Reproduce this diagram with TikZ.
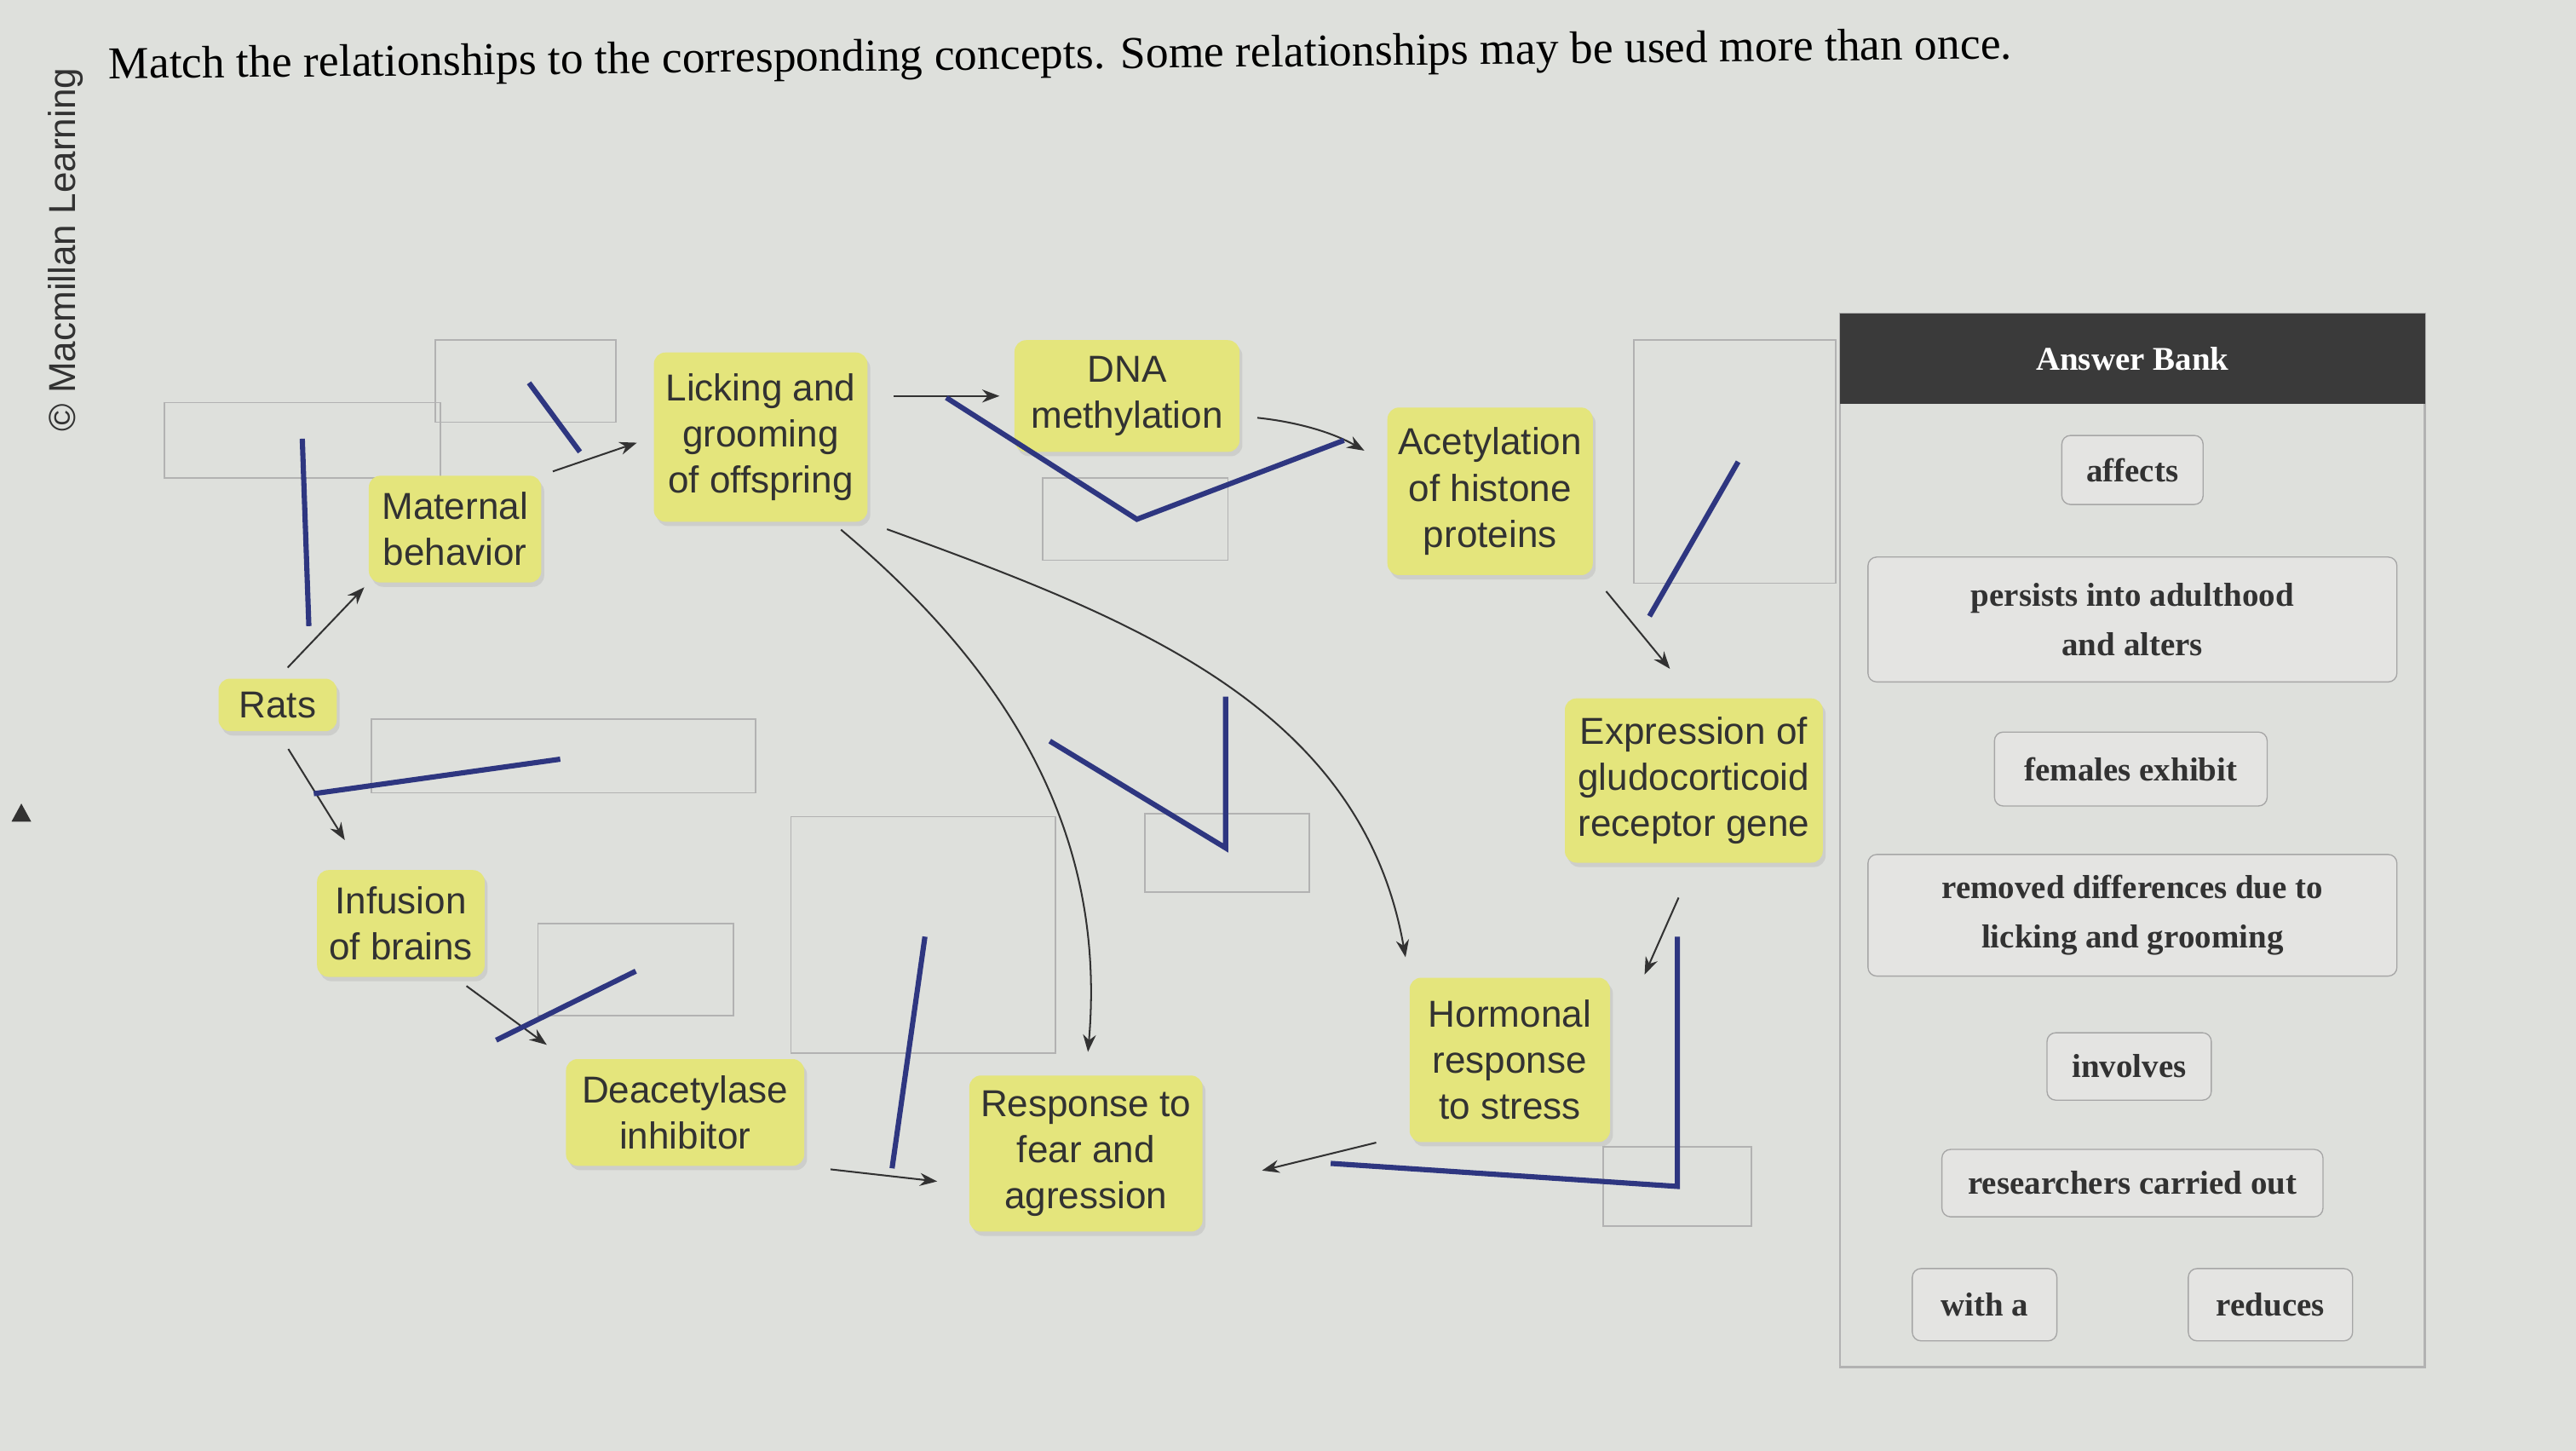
\documentclass[tikz,border=0pt]{standalone}
\usepackage{fontspec}
\setmainfont{Liberation Serif}
\setsansfont{Liberation Sans}
\usepackage{tikz}
\usetikzlibrary{arrows.meta,positioning,shadows}

\definecolor{screen}{RGB}{222,224,220}
\definecolor{conceptfill}{RGB}{228,229,124}
\definecolor{ink}{RGB}{50,50,50}
\definecolor{penblue}{RGB}{46,54,128}
\definecolor{bankhead}{RGB}{58,58,58}
\definecolor{cardfill}{RGB}{228,228,226}

\begin{document}
\begin{tikzpicture}[
		x=0.02cm, y=-0.02cm,
		>={Stealth[length=6pt,width=4.5pt]},
		concept/.style={
			rectangle,
			rounded corners=4pt,
			fill=conceptfill,
			drop shadow={opacity=0.18, shadow xshift=1pt, shadow yshift=-1.5pt},
			text=ink,
			align=center,
			inner sep=3pt,
			font=\sffamily\fontsize{13}{16}\selectfont
		},
		slot/.style={
			draw=gray!60,
			line width=0.5pt
		},
		link/.style={
			draw=ink,
			line width=0.6pt,
			shorten <=4pt,
			shorten >=3pt
		},
		penline/.style={
			draw=penblue,
			line width=1.8pt,
			line join=miter
		},
		card/.style={
			draw=gray!70,
			rounded corners=3pt,
			fill=cardfill,
			text=ink,
			align=center,
			font=\bfseries\fontsize{11.5}{17}\selectfont
		}
		]
		
		\useasboundingbox (0,0) rectangle (1568,883);
		\fill[screen] (0,0) rectangle (1568,883);
		
		\node (credit) [rotate=90, text=ink, font=\sffamily\fontsize{13}{15}\selectfont] at (40,152) {\textcopyright\ Macmillan Learning};
		
		\node (title) [anchor=base west, rotate=0.6, text=black, font=\fontsize{15.8}{18}\selectfont] at (60,48) {Match the relationships to the corresponding concepts. Some relationships may be used more than once.};
		
		\fill[ink] (7,500) -- (19,500) -- (13,489) -- cycle;
		
		\node (s1) [slot, minimum width=2.2cm, minimum height=1cm] at (320,232) {};
		\node (s2) [slot, minimum width=3.36cm, minimum height=0.92cm] at (184,268) {};
		\node (s3) [slot, minimum width=4.68cm, minimum height=0.9cm] at (343,460) {};
		\node (s4) [slot, minimum width=2.38cm, minimum height=1.12cm] at (387,590) {};
		\node (s5) [slot, minimum width=3.22cm, minimum height=2.88cm] at (562,569) {};
		\node (s6) [slot, minimum width=2.26cm, minimum height=1cm] at (691,316) {};
		\node (s7) [slot, minimum width=2.46cm, minimum height=2.96cm] at (1056,281) {};
		\node (s8) [slot, minimum width=2cm, minimum height=0.96cm] at (747,519) {};
		\node (s9) [slot, minimum width=1.8cm, minimum height=0.96cm] at (1021,722) {};
		
		\node (lick) [concept, minimum width=2.6cm, minimum height=2.06cm] at (463,266) {Licking and\\grooming\\of offspring};
		
		\node (dna) [concept, minimum width=2.74cm, minimum height=1.36cm] at (686,241) {DNA\\methylation};
		
		\node (acet) [concept, minimum width=2.5cm, minimum height=2.04cm] at (907,299) {Acetylation\\of histone\\proteins};
		
		\node (maternal) [concept, minimum width=2.1cm, minimum height=1.3cm] at (277,322) {Maternal\\behavior};
		
		\node (rats) [concept, minimum width=1.44cm, minimum height=0.64cm] at (169,429) {Rats};
		
		\node (expr) [concept, minimum width=3.14cm, minimum height=2cm] at (1031,475) {Expression of\\gludocorticoid\\receptor gene};
		
		\node (infusion) [concept, minimum width=2.04cm, minimum height=1.3cm] at (244,562) {Infusion\\of brains};
		
		\node (deacet) [concept, minimum width=2.9cm, minimum height=1.3cm] at (417,677) {Deacetylase\\inhibitor};
		
		\node (response) [concept, minimum width=2.84cm, minimum height=1.9cm] at (661,702) {Response to\\fear and\\agression};
		
		\node (hormonal) [concept, minimum width=2.44cm, minimum height=2cm] at (919,645) {Hormonal\\response\\to stress};
		
		\draw[->, link, shorten <=5pt, shorten >=2pt] (rats.north) -- (maternal.south west);
		\draw[->, link, shorten >=6pt] (maternal.north east) -- (lick.west);
		\draw[->, link, shorten <=9pt, shorten >=5pt] (lick.east |- dna.west) -- (dna.west);
		\draw[->, link, shorten <=6pt, shorten >=9pt] (dna.-10) to[bend left=12] (acet.165);
		\draw[->, link, shorten <=7pt, shorten >=13pt] (acet.south east) -- (expr.north);
		\draw[->, link, shorten <=13pt, shorten >=1pt] (expr.south) -- ([xshift=0.4cm]hormonal.north east);
		\draw[->, link, shorten <=0pt, shorten >=21pt] ([xshift=-0.4cm]hormonal.south west) -- (response.-15);
		\draw[->, link, shorten <=7pt, shorten >=7pt] (lick.south east) to[out=-20, in=100] (hormonal.north west);
		\draw[->, link, shorten <=4pt, shorten >=8pt] (lick.-50) to[out=-40, in=85] (response.north);
		\draw[->, link, shorten <=7pt, shorten >=12pt] (rats.south) -- (infusion.125);
		\draw[->, link, shorten <=5pt, shorten >=8pt] (infusion.-45) -- (deacet.north west);
		\draw[->, link, shorten <=9pt, shorten >=11pt] (deacet.south east) -- (response.-165);
		
		\draw[penline] (184,267) -- (188,381);
		\draw[penline] (322,233) -- (353,275);
		\draw[penline] (576,242) -- (692,316) -- (818,268);
		\draw[penline] (1058,281) -- (1004,375);
		\draw[penline] (639,451) -- (746,516) -- (746,424);
		\draw[penline] (191,483) -- (341,462);
		\draw[penline] (302,633) -- (387,591);
		\draw[penline] (563,570) -- (543,711);
		\draw[penline] (1021,570) -- (1021,722) -- (810,708);
		
		\draw[gray!60, line width=0.8pt, fill=screen] (1120,191) rectangle (1476,832);
		\node (bank) [fill=bankhead, minimum width=7.12cm, minimum height=1.1cm, text=white, font=\bfseries\fontsize{11.5}{14}\selectfont] at (1298,218.5) {Answer Bank};
		
		\node (affects) [card, minimum width=1.72cm, minimum height=0.84cm] at (1298,286) {affects};
		
		\node (persists) [card, minimum width=6.44cm, minimum height=1.52cm] at (1298,377) {persists into adulthood\\and alters};
		
		\node (females) [card, minimum width=3.32cm, minimum height=0.9cm] at (1297,468) {females exhibit};
		
		\node (removed) [card, minimum width=6.44cm, minimum height=1.48cm] at (1298,557) {removed differences due to\\licking and grooming};
		
		\node (involves) [card, minimum width=2cm, minimum height=0.82cm] at (1296,649) {involves};
		
		\node (researchers) [card, minimum width=4.64cm, minimum height=0.82cm] at (1298,720) {researchers carried out};
		
		\node (witha) [card, minimum width=1.76cm, minimum height=0.88cm] at (1208,794) {with a};
		
		\node (reduces) [card, minimum width=2cm, minimum height=0.88cm] at (1382,794) {reduces};
		
	\end{tikzpicture}
\end{document}
